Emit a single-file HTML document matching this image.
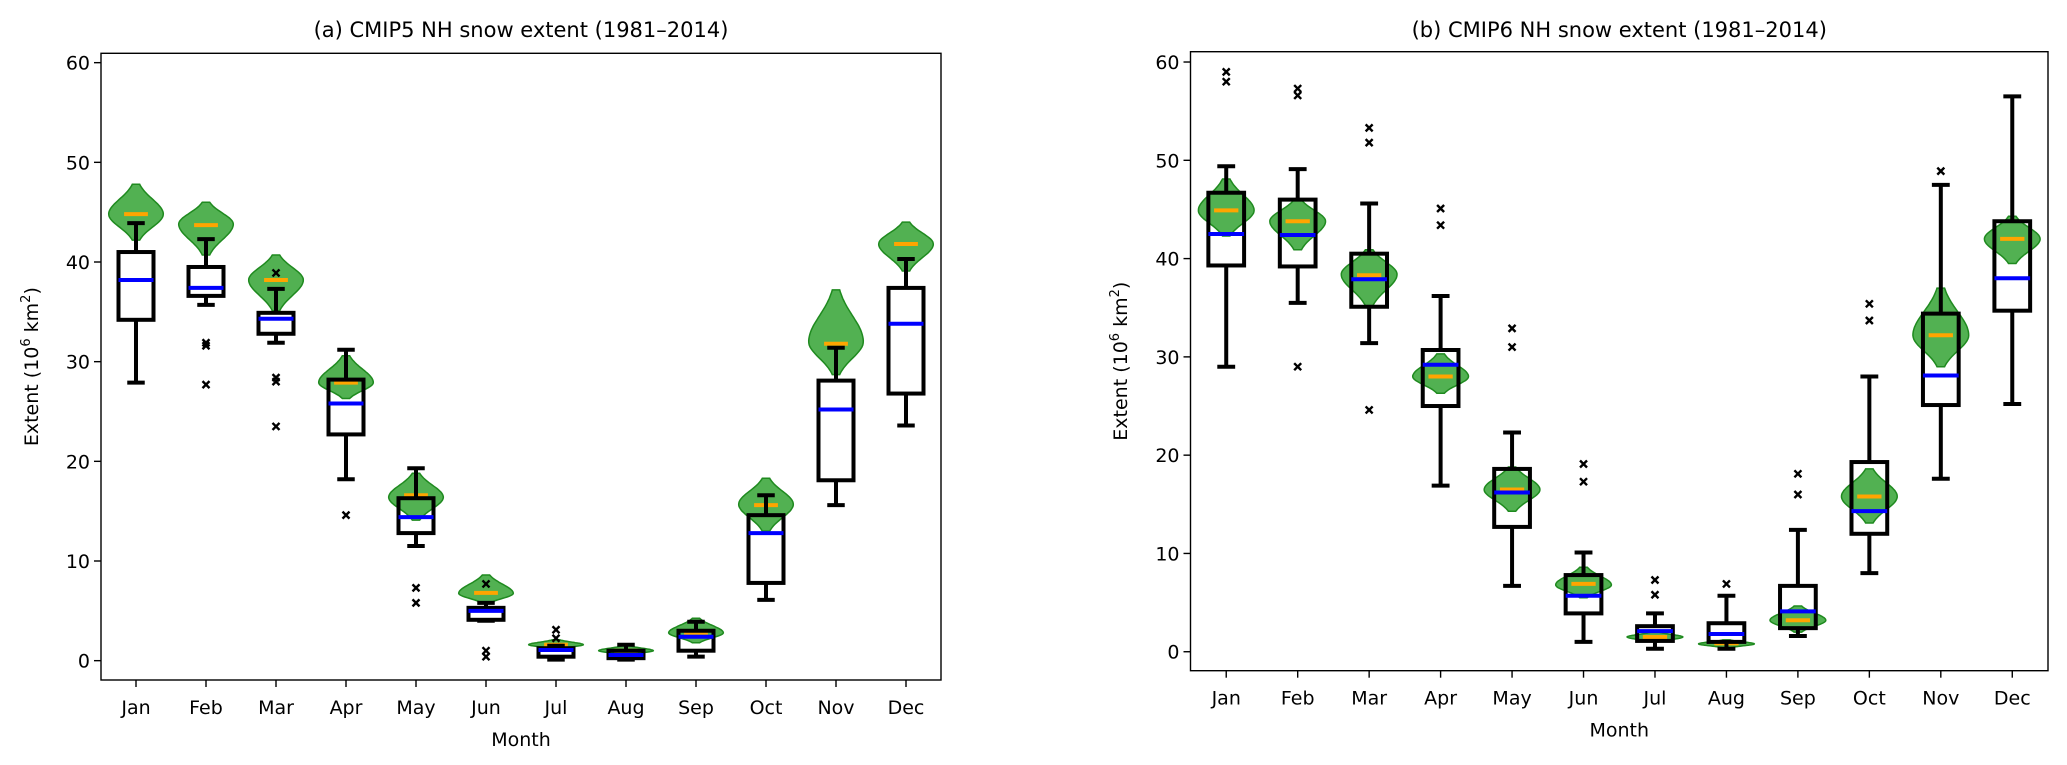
<!DOCTYPE html>
<html><head><meta charset="utf-8">
<style>
html,body{margin:0;padding:0;background:#fff;}
svg{display:block;font-family:"DejaVu Sans","Liberation Sans",sans-serif;}
</style></head>
<body>
<svg id="fig" width="2067" height="765" viewBox="0 0 2067 765" xmlns="http://www.w3.org/2000/svg"></svg>
<script>
const months = ["Jan","Feb","Mar","Apr","May","Jun","Jul","Aug","Sep","Oct","Nov","Dec"];
const yTicks = [0,10,20,30,40,50,60];

// CMIP5 box stats
const a_whislo = [27.9,35.7,31.9,18.2,11.5,4.0,0.1,0.1,0.4,6.1,15.6,23.6];
const a_q1     = [34.2,36.6,32.8,22.7,12.8,4.1,0.4,0.25,1.0,7.8,18.1,26.8];
const a_med    = [38.2,37.4,34.3,25.8,14.4,5.0,1.07,0.57,2.4,12.8,25.2,33.8];
const a_q3     = [41.0,39.5,34.9,28.2,16.3,5.3,1.25,1.0,3.0,14.6,28.1,37.4];
const a_whishi = [43.9,42.3,37.3,31.2,19.3,5.8,1.5,1.6,3.9,16.6,31.4,40.3];
const a_fliers = [[],[31.9,31.6,27.7],[38.9,28.4,28.0,23.5],[14.6],[7.3,5.8],[7.7,1.0,0.4],[3.1,2.25],[],[],[],[],[]];
const a_vtop   = [47.8,46.0,40.7,30.6,18.8,8.6,2.1,1.5,4.25,18.3,37.2,44.0];
const a_vbot   = [42.2,40.7,35.1,26.3,14.1,5.75,1.2,0.6,1.8,13.0,28.7,39.1];
const a_vmode  = [44.8,43.8,38.2,27.9,16.4,6.75,1.6,1.0,2.8,15.7,32.0,41.8];
const a_orange = [44.8,43.7,38.2,27.9,16.6,6.8,1.6,1.0,2.8,15.6,31.8,41.8];

// CMIP6 box stats
const b_whislo = [29.0,35.5,31.4,16.9,6.7,1.0,0.3,0.3,1.6,8.0,17.6,25.2];
const b_q1     = [39.3,39.2,35.1,25.0,12.7,3.9,1.1,1.0,2.4,12.0,25.1,34.7];
const b_med    = [42.5,42.4,37.9,29.2,16.2,5.7,2.1,1.8,4.1,14.3,28.1,38.0];
const b_q3     = [46.7,46.0,40.5,30.7,18.6,7.8,2.6,2.9,6.7,19.3,34.4,43.8];
const b_whishi = [49.4,49.1,45.6,36.2,22.3,10.1,3.9,5.7,12.4,28.0,47.5,56.5];
const b_fliers = [[59.0,58.0],[57.3,56.6,29.0],[53.3,51.8,24.6],[45.1,43.4],[32.9,31.0],[19.1,17.3],[7.3,5.8],[6.9],[18.1,16.0],[35.4,33.7],[48.9],[]];
const b_vtop   = [48.1,46.0,40.9,30.3,18.8,8.6,2.0,1.2,4.65,18.6,37.0,44.3];
const b_vbot   = [42.3,40.9,35.2,26.3,14.3,5.5,1.0,0.4,2.0,13.1,29.0,39.5];
const b_vmode  = [44.9,43.8,38.4,28.0,16.5,6.8,1.5,0.8,3.2,15.8,32.2,42.0];
const b_orange = [44.9,43.8,38.3,28.0,16.5,6.9,1.5,0.85,3.2,15.8,32.2,42.0];

const NS = "http://www.w3.org/2000/svg";
const svg = document.getElementById('fig');
function mk(tag, attrs, parent){
  const e = document.createElementNS(NS, tag);
  for (const k in attrs) e.setAttribute(k, attrs[k]);
  (parent||svg).appendChild(e);
  return e;
}

function panel(cfg, d){
  const g = mk('g', {});
  
  
  const {L,R,T,B,ymin,ymax} = cfg;
  const n = months.length;
  const xs = i => L + (i + 0.5) * (R - L) / n;
  const ys = v => B - (v - ymin) / (ymax - ymin) * (B - T);
  const unit = (R - L) / n;

  // title
  const t = mk('text', {x:(L+R)/2, y:37, 'text-anchor':'middle', 'font-size':21, fill:'#000'}, g);
  t.textContent = cfg.title;
  
  

  // y ticks
  yTicks.forEach(v => {
    const y = ys(v);
    const tk = mk('line', {x1:L-7, x2:L, y1:y, y2:y, stroke:'#000', 'stroke-width':1.4}, g);
    
    
    const lb = mk('text', {x:L-11, y:y+7, 'text-anchor':'end', 'font-size':19, fill:'#000'}, g);
    lb.textContent = v;
    
    
  });
  // x ticks
  months.forEach((m, i) => {
    const x = xs(i);
    const tk = mk('line', {x1:x, x2:x, y1:B, y2:B+7, stroke:'#000', 'stroke-width':1.4}, g);
    
    
    const lb = mk('text', {x:x, y:B+34, 'text-anchor':'middle', 'font-size':19, fill:'#000'}, g);
    lb.textContent = m;
    
    
  });
  // axis labels
  const xl = mk('text', {x:(L+R)/2, y:B+66, 'text-anchor':'middle', 'font-size':19, fill:'#000'}, g);
  xl.textContent = 'Month';
  
  
  const ylx = cfg.ylabelX, yly = (T+B)/2;
  const yl = mk('text', {x:ylx, y:yly, 'text-anchor':'middle', 'font-size':19, fill:'#000', transform:`rotate(-90 ${ylx} ${yly})`}, g);
  yl.innerHTML = 'Extent (10<tspan dy="-8" font-size="13">6</tspan><tspan dy="8"> km</tspan><tspan dy="-8" font-size="13">2</tspan><tspan dy="8">)</tspan>';
  
  

  const W = unit * 0.39;
  months.forEach((m, i) => {
    const cx = xs(i);
    // violin
    const top = d.vtop[i], bot = d.vbot[i], mode = d.vmode[i];
    const N = 40, right = [], left = [];
    for (let k = 0; k <= N; k++){
      const v = bot + (top - bot) * k / N;
      const s = v >= mode ? (top - mode) / 2.0 : (mode - bot) / 2.0;
      const z = s > 0 ? (v - mode) / s : 0;
      const w = Math.max(W * Math.exp(-0.5 * z * z), 2);
      right.push([cx + w, ys(v)]);
      left.push([cx - w, ys(v)]);
    }
    const pts = right.concat(left.reverse()).map(p => p[0].toFixed(1)+','+p[1].toFixed(1)).join(' ');
    const vi = mk('polygon', {points:pts, fill:'#2ca02c', 'fill-opacity':0.82, stroke:'#1f8a1f', 'stroke-width':1.5}, g);
    
    
    // orange marker
    const oy = ys(d.orange[i]);
    const or = mk('line', {x1:cx - unit*0.17, x2:cx + unit*0.17, y1:oy, y2:oy, stroke:'#ffa500', 'stroke-width':4}, g);
    
    

    // box
    const bw = unit * 0.25, cw = unit * 0.125;
    const bg = mk('g', {stroke:'#000', 'stroke-width':4, fill:'none'}, g);
    
    
    mk('line', {x1:cx, x2:cx, y1:ys(d.q3[i]), y2:ys(d.whishi[i])}, bg);
    mk('line', {x1:cx, x2:cx, y1:ys(d.q1[i]), y2:ys(d.whislo[i])}, bg);
    mk('line', {x1:cx-cw, x2:cx+cw, y1:ys(d.whishi[i]), y2:ys(d.whishi[i])}, bg);
    mk('line', {x1:cx-cw, x2:cx+cw, y1:ys(d.whislo[i]), y2:ys(d.whislo[i])}, bg);
    mk('rect', {x:cx-bw, y:ys(d.q3[i]), width:2*bw, height:Math.max(ys(d.q1[i]) - ys(d.q3[i]), 0.5)}, bg);
    const my = ys(d.med[i]);
    const md = mk('line', {x1:cx-bw, x2:cx+bw, y1:my, y2:my, stroke:'#0000ff', 'stroke-width':4}, g);
    
    
    d.fliers[i].forEach(v => {
      const fy = ys(v), s = 3.5;
      const f = mk('path', {d:`M${cx-s},${fy-s}L${cx+s},${fy+s}M${cx-s},${fy+s}L${cx+s},${fy-s}`, stroke:'#000', 'stroke-width':2.4, fill:'none'}, g);
      
      
    });
  });
  // frame
  const fr = mk('rect', {x:L, y:T, width:R-L, height:B-T, fill:'none', stroke:'#000', 'stroke-width':1.4}, g);
  
  
}

panel({name:'panel-a-cmip5', title:'(a) CMIP5 NH snow extent (1981–2014)', L:101, R:941, T:53.3, B:680,
       ymin:-1.94, ymax:60.94, ylabelX:38},
      {whislo:a_whislo,q1:a_q1,med:a_med,q3:a_q3,whishi:a_whishi,fliers:a_fliers,vtop:a_vtop,vbot:a_vbot,vmode:a_vmode,orange:a_orange});
panel({name:'panel-b-cmip6', title:'(b) CMIP6 NH snow extent (1981–2014)', L:1190.5, R:2048, T:51.7, B:670.7,
       ymin:-1.93, ymax:61.05, ylabelX:1127},
      {whislo:b_whislo,q1:b_q1,med:b_med,q3:b_q3,whishi:b_whishi,fliers:b_fliers,vtop:b_vtop,vbot:b_vbot,vmode:b_vmode,orange:b_orange});
</script>
</body></html>
